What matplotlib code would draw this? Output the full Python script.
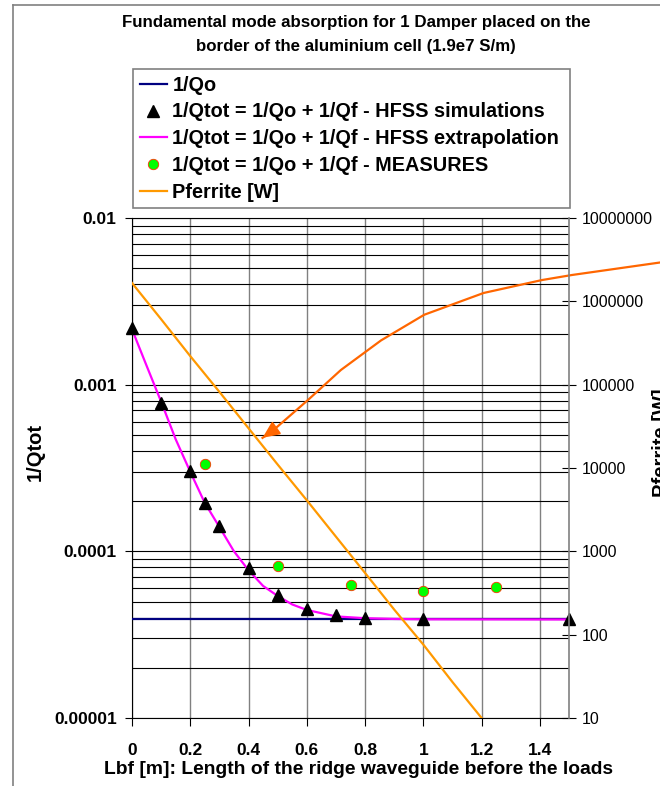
"""Fundamental mode absorption chart (1/Qtot and Pferrite vs Lbf)."""

import matplotlib
matplotlib.use("Agg")
import matplotlib.pyplot as plt
from matplotlib.lines import Line2D
from matplotlib.ticker import FixedLocator, FuncFormatter, NullLocator

plt.rcParams["font.family"] = ["Liberation Sans", "DejaVu Sans"]

# --- data ------------------------------------------------------------------
qo_x = [0.0, 1.5]
qo_y = [3.9e-5, 3.9e-5]

sim_x = [0.0, 0.1, 0.2, 0.25, 0.3, 0.4, 0.5, 0.6, 0.7, 0.8, 1.0, 1.5]
sim_y = [2.2e-3, 7.8e-4, 3.05e-4, 1.94e-4, 1.41e-4, 7.9e-5, 5.5e-5,
         4.5e-5, 4.13e-5, 3.97e-5, 3.9e-5, 3.9e-5]

extrap_x = [0.0, 0.05, 0.1, 0.15, 0.2, 0.25, 0.3, 0.35, 0.4, 0.45, 0.5,
            0.55, 0.6, 0.7, 0.8, 0.9, 1.0, 1.5]
extrap_y = [2.15e-3, 1.3e-3, 7.9e-4, 4.7e-4, 3.0e-4, 1.95e-4, 1.4e-4,
            1.0e-4, 7.7e-5, 6.2e-5, 5.4e-5, 4.8e-5, 4.45e-5, 4.07e-5,
            3.97e-5, 3.93e-5, 3.91e-5, 3.9e-5]

meas_x = [0.25, 0.5, 0.75, 1.0, 1.25]
meas_y = [3.33e-4, 8.2e-5, 6.25e-5, 5.75e-5, 6.1e-5]

pfer_x = [0.0, 0.1, 0.2, 0.3, 0.4, 0.5, 0.6, 0.7, 0.8, 0.9, 1.0, 1.1, 1.2]
pfer_y = [1.66e6, 6.1e5, 2.2e5, 8.2e4, 3.0e4, 1.1e4, 4.1e3, 1.5e3,
          550, 200, 76, 27, 10]

# hand drawn arrow pointing at the Pferrite curve (tip first)
arrow_x = [0.448, 0.486, 0.603, 0.717, 0.855, 1.003, 1.207, 1.407, 1.51, 1.82]
arrow_y = [2.3e4, 2.86e4, 6.5e4, 1.5e5, 3.4e5, 6.9e5, 1.26e6, 1.8e6,
           2.07e6, 2.95e6]

left_ticks = [1e-5, 1e-4, 1e-3, 1e-2]
left_labels = ["0.00001", "0.0001", "0.001", "0.01"]
right_ticks = [10, 100, 1000, 10000, 100000, 1000000, 10000000]
x_ticks = [0.0, 0.2, 0.4, 0.6, 0.8, 1.0, 1.2, 1.4]

W, H = 660, 786
fig = plt.figure(figsize=(W / 100, H / 100), dpi=100)
ax = fig.add_axes([132 / W, 1 - 718 / H, (569 - 132) / W, (718 - 218) / H])

ax.set_xlim(0, 1.5)
ax.set_yscale("log")
ax.set_ylim(1e-5, 1e-2)

ax.yaxis.set_major_locator(FixedLocator(left_ticks))
ax.yaxis.set_major_formatter(
    FuncFormatter(lambda v, p: dict(zip(left_ticks, left_labels)).get(v, "")))
ax.xaxis.set_major_locator(FixedLocator(x_ticks))
ax.xaxis.set_major_formatter(FuncFormatter(lambda v, p: f"{v:g}"))

ax.grid(True, which="both", axis="y", color="black", lw=0.8)
ax.grid(True, which="major", axis="x", color="#808080", lw=1.0)
ax.tick_params(axis="y", which="major", direction="out", length=5,
               width=0.8, pad=6, labelsize=12.5)
ax.tick_params(axis="y", which="minor", length=0)
ax.tick_params(axis="x", direction="out", length=6, width=0.8, pad=12,
               labelsize=12.5)
for lab in ax.get_xticklabels() + ax.get_yticklabels():
    lab.set_fontweight("bold")

for side in ("top", "left", "bottom"):
    ax.spines[side].set_color("black")
    ax.spines[side].set_linewidth(0.8)
ax.spines["right"].set_visible(False)

h_qo, = ax.plot(qo_x, qo_y, color="#000080", lw=1.6, zorder=3)
h_ext, = ax.plot(extrap_x, extrap_y, color="#FF00FF", lw=1.6, zorder=4)
h_sim, = ax.plot(sim_x, sim_y, ls="none", marker="^", ms=8.5,
                 color="black", zorder=6, clip_on=False)
h_meas, = ax.plot(meas_x, meas_y, ls="none", marker="o", ms=7.5,
                  markerfacecolor="#00FF00", markeredgecolor="#FF3300",
                  markeredgewidth=0.6, zorder=6)

ax2 = ax.twinx()
ax2.set_yscale("log")
ax2.set_ylim(10, 1e7)
ax2.yaxis.set_major_locator(FixedLocator(right_ticks))
ax2.yaxis.set_minor_locator(NullLocator())
ax2.yaxis.set_major_formatter(FuncFormatter(lambda v, p: f"{int(round(v))}"))
ax2.tick_params(axis="y", direction="inout", length=10, width=0.8, pad=4,
                labelsize=11.5)
for side in ("top", "left", "bottom"):
    ax2.spines[side].set_visible(False)
ax2.spines["right"].set_color("#808080")
ax2.spines["right"].set_linewidth(1.2)

h_pf, = ax2.plot(pfer_x, pfer_y, color="#FF9900", lw=1.6, zorder=3)

ax2.plot(arrow_x, arrow_y, color="#FF6600", lw=1.6, clip_on=False)
ax2.annotate("", xy=(arrow_x[0], arrow_y[0]),
             xytext=(arrow_x[1], arrow_y[1]),
             arrowprops=dict(arrowstyle="-|>,head_length=1.0,head_width=0.45",
                             color="#FF6600", lw=1.6, shrinkA=0, shrinkB=0),
             annotation_clip=False)

# titles and axis labels
fig.text(356 / W, 1 - 22 / H,
         "Fundamental mode absorption for 1 Damper placed on the",
         ha="center", va="center", fontsize=12.2, fontweight="bold")
fig.text(356 / W, 1 - 46 / H, "border of the aluminium cell (1.9e7 S/m)",
         ha="center", va="center", fontsize=12.2, fontweight="bold")
fig.text(358 / W, 1 - 770 / H,
         "Lbf [m]: Length of the ridge waveguide before the loads",
         ha="center", va="center", fontsize=13.9, fontweight="bold")
fig.text(35 / W, 1 - 452 / H, "1/Qtot", rotation=90, ha="center",
         va="center", fontsize=14.5, fontweight="bold")
fig.text(662 / W, 1 - 443 / H, "Pferrite [W]", rotation=90, ha="center",
         va="center", fontsize=14.5, fontweight="bold")

handles = [h_qo, h_sim, h_ext, h_meas, h_pf]
labels = ["1/Qo",
          "1/Qtot = 1/Qo + 1/Qf - HFSS simulations",
          "1/Qtot = 1/Qo + 1/Qf - HFSS extrapolation",
          "1/Qtot = 1/Qo + 1/Qf - MEASURES",
          "Pferrite [W]"]
leg = fig.legend(handles, labels, loc="upper left",
                 bbox_to_anchor=(133 / W, 1 - 208 / H, (570 - 133) / W,
                                 (208 - 69) / H),
                 mode="expand", borderaxespad=0, frameon=True,
                 fancybox=False, edgecolor="#808080", framealpha=1,
                 prop=dict(size=14.3, weight="bold"), handlelength=1.36,
                 handletextpad=0.28, labelspacing=0.39, borderpad=0.34)
leg.get_frame().set_linewidth(1.2)

# chart area border (cropped on the right and bottom)
fig.add_artist(Line2D([13 / W, 13 / W], [0, 1 - 5 / H],
                      transform=fig.transFigure, color="#808080", lw=1.2))
fig.add_artist(Line2D([13 / W, 1], [1 - 5 / H, 1 - 5 / H],
                      transform=fig.transFigure, color="#808080", lw=1.2))

fig.savefig("out.png", dpi=100)
